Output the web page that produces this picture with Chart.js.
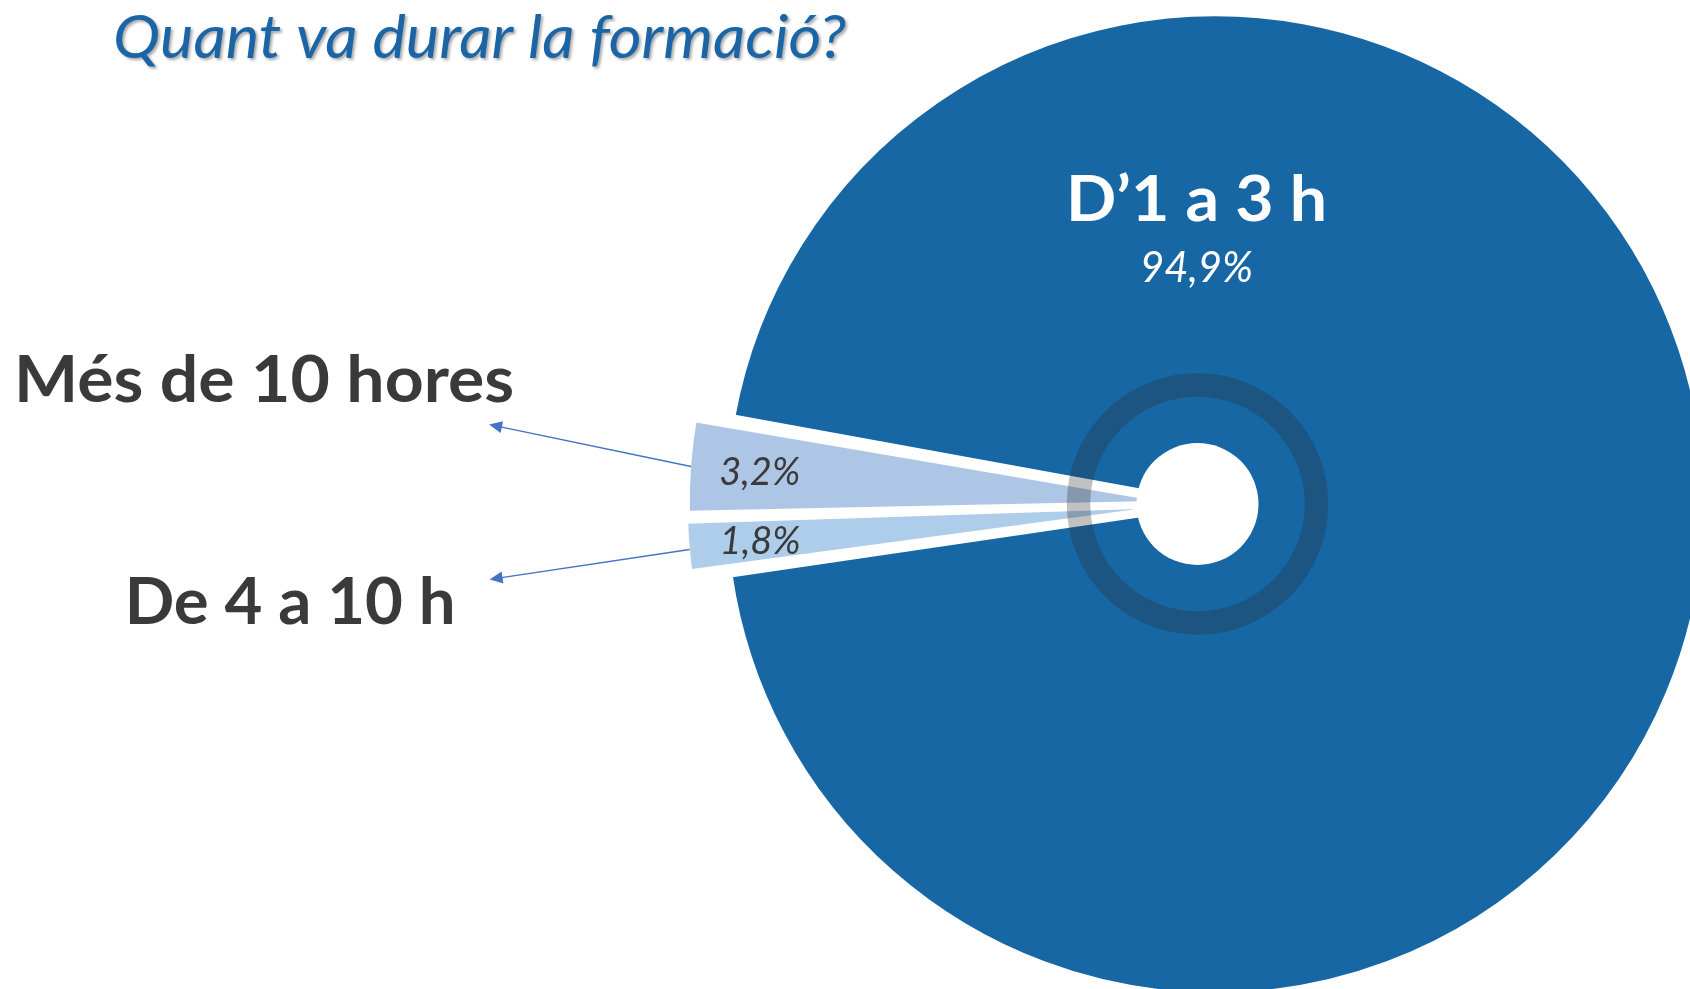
<!DOCTYPE html>
<html>
<head>
<meta charset="utf-8">
<script src="https://cdn.jsdelivr.net/npm/chart.js@4.4.1/dist/chart.umd.min.js"></script>
<style>
  html, body { margin: 0; padding: 0; background: #fff; overflow: hidden; }
  canvas { display: block; }
</style>
</head>
<body>
<canvas id="myChart" width="1690" height="989"></canvas>
<script>
// data
const chartTitle = 'Quant va durar la formació?';
const categories = ['D’1 a 3 h', 'De 4 a 10 h', 'Més de 10 hores'];
const shares = [94.9, 1.8, 3.2];

const sliceColors = ['#1767A5', '#ADCDEA', '#AEC6E5'];
const FONT = 'Lato, "Open Sans", sans-serif';
const DARK = '#3A3A3A';

function pct(v) {
  return v.toFixed(1).replace('.', ',') + '%';
}

// draws text with a given cap height and (optionally) squeezed to a given width
function fitText(ctx, text, style, x, y, capH, width, align) {
  ctx.font = style + ' 100px ' + FONT;
  const cap = ctx.measureText('H').actualBoundingBoxAscent;
  const size = 100 * capH / cap;
  ctx.font = style + ' ' + size.toFixed(1) + 'px ' + FONT;
  const w = ctx.measureText(text).width;
  const sx = width ? width / w : 1;
  ctx.save();
  ctx.translate(x, y);
  ctx.scale(sx, 1);
  ctx.textAlign = align || 'left';
  ctx.textBaseline = 'alphabetic';
  ctx.fillText(text, 0, 0);
  ctx.restore();
}

function arrow(ctx, x1, y1, x2, y2) {
  const a = Math.atan2(y2 - y1, x2 - x1);
  const len = 13, half = 6;
  ctx.save();
  ctx.strokeStyle = '#4472C4';
  ctx.fillStyle = '#4472C4';
  ctx.lineWidth = 1.5;
  ctx.beginPath();
  ctx.moveTo(x1, y1);
  ctx.lineTo(x2 - Math.cos(a) * len * 0.8, y2 - Math.sin(a) * len * 0.8);
  ctx.stroke();
  ctx.beginPath();
  ctx.moveTo(x2, y2);
  ctx.lineTo(x2 - Math.cos(a) * len - Math.sin(a) * half, y2 - Math.sin(a) * len + Math.cos(a) * half);
  ctx.lineTo(x2 - Math.cos(a) * len + Math.sin(a) * half, y2 - Math.sin(a) * len - Math.cos(a) * half);
  ctx.closePath();
  ctx.fill();
  ctx.restore();
}

const decor = {
  id: 'decor',
  afterDatasetsDraw(chart) {
    const ctx = chart.ctx;
    const arcs = chart.getDatasetMeta(0).data;
    const cx = arcs[0].x, cy = arcs[0].y, R = arcs[0].outerRadius;

    // ring + hole in the middle
    ctx.save();
    ctx.beginPath();
    ctx.arc(cx, cy, 119, 0, Math.PI * 2);
    ctx.strokeStyle = 'rgba(40,40,40,0.29)';
    ctx.lineWidth = 23.5;
    ctx.stroke();
    ctx.beginPath();
    ctx.arc(cx, cy, 61, 0, Math.PI * 2);
    ctx.fillStyle = '#fff';
    ctx.fill();
    ctx.restore();

    // big slice label
    ctx.fillStyle = '#fff';
    fitText(ctx, categories[0], 'bold', cx - 1, cy - 0.6 * R, 46, 261, 'center');
    fitText(ctx, pct(shares[0]), 'italic', cx - 1, cy - 0.47 * R, 30, 113, 'center');

    // small slices: value inside, name outside with arrow
    const offsets = chart.data.datasets[0].offset;
    const arrowEnd = { 1: [-200, 30], 2: [-202, -42] };
    const textPos = { 1: [-34, 45], 2: [25, -23] };
    const textW = { 1: 331, 2: 500 };
    [1, 2].forEach(i => {
      const a = arcs[i];
      const mid = (a.startAngle + a.endAngle) / 2;
      const c = Math.cos(mid), s = Math.sin(mid);
      ctx.fillStyle = DARK;
      fitText(ctx, pct(shares[i]), 'italic', cx + c * 0.93 * R, cy + s * 0.93 * R + 13.5, 27, 81, 'center');

      const off = offsets[i] / 4;
      const fix = 1 - Math.sin(Math.min(Math.PI, a.endAngle - a.startAngle));
      const r = a.outerRadius + off * fix + off - 2;
      const x1 = cx + c * r, y1 = cy + s * r + (i === 1 ? 3 : 0);
      const x2 = x1 + arrowEnd[i][0], y2 = y1 + arrowEnd[i][1];
      arrow(ctx, x1, y1, x2, y2);
      ctx.fillStyle = DARK;
      fitText(ctx, categories[i], 'bold', x2 + textPos[i][0], y2 + textPos[i][1], 48, textW[i], 'right');
    });
  },
  afterDraw(chart) {
    const ctx = chart.ctx;
    ctx.save();
    ctx.shadowColor = 'rgba(0,0,0,0.35)';
    ctx.shadowOffsetX = 2;
    ctx.shadowOffsetY = 2;
    ctx.shadowBlur = 3;
    ctx.fillStyle = '#1B65A7';
    fitText(ctx, chartTitle, 'italic', 113, 58, 42, 733, 'left');
    ctx.restore();
  }
};

const ctx = document.getElementById('myChart').getContext('2d');
const myChart = new Chart(ctx, {
  type: 'pie',
  data: {
    labels: categories,
    datasets: [{
      data: shares,
      backgroundColor: sliceColors,
      borderColor: '#fff',
      borderWidth: 4,
      offset: [72, 84, 84],
      clip: false
    }]
  },
  options: {
    responsive: false,
    animation: false,
    events: [],
    rotation: -80,
    radius: 472,
    layout: { padding: { left: 705, top: 19, right: 0, bottom: 0 } },
    plugins: {
      legend: { display: false },
      tooltip: { enabled: false }
    }
  },
  plugins: [decor]
});
</script>
</body>
</html>
